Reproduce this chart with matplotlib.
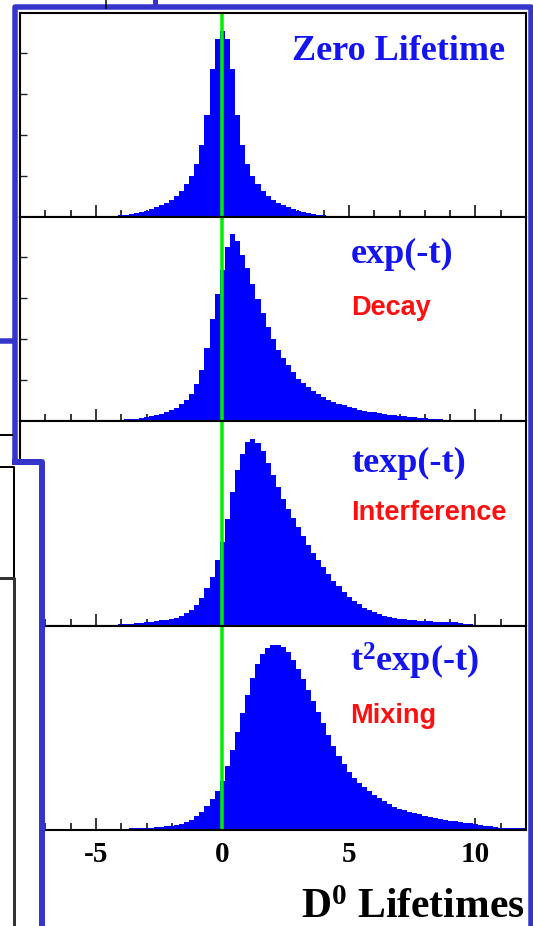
import numpy as np
import matplotlib
matplotlib.use('Agg')
import matplotlib.pyplot as plt
from matplotlib.lines import Line2D
from matplotlib.patches import Rectangle

plt.rcParams['mathtext.fontset'] = 'custom'
plt.rcParams['mathtext.rm'] = 'Liberation Serif:bold'
plt.rcParams['mathtext.it'] = 'Liberation Serif:bold'
plt.rcParams['mathtext.bf'] = 'Liberation Serif:bold'

# ---------------- data ----------------
# histogram bins: centres from -8.0 to 12.0, width 0.2
bin_centers = np.round(np.arange(-8.0, 12.0001, 0.2), 1)
bin_width = 0.2

zero_lifetime = ([0.0] * 16 +
    [0.0, 0.008, 0.015, 0.025, 0.04, 0.06, 0.08, 0.10, 0.13, 0.16, 0.20, 0.24,
     0.29, 0.35, 0.42, 0.52, 0.64, 0.80, 1.00, 1.30, 1.75, 2.50, 3.60, 4.35] +
    [4.54] +
    [4.35, 3.60, 2.50, 1.75, 1.30, 1.00, 0.80, 0.64, 0.52, 0.42, 0.35, 0.29,
     0.24, 0.20, 0.16, 0.13, 0.10, 0.08, 0.06, 0.04, 0.025, 0.015, 0.008, 0.0] +
    [0.0] * 36)

decay = ([0.0] * 6 +
    [0.005, 0.008, 0.01, 0.01, 0.012, 0.014, 0.016, 0.018, 0.02, 0.022, 0.025,
     0.028, 0.03, 0.035, 0.04, 0.05, 0.06, 0.07, 0.09, 0.11, 0.13, 0.16, 0.19,
     0.23, 0.27, 0.33, 0.42, 0.53, 0.68, 0.90, 1.25, 1.80, 2.50, 3.10] +
    [3.70, 4.25, 4.56, 4.40, 4.05, 3.75, 3.35, 2.98, 2.65, 2.30, 2.00, 1.74,
     1.55, 1.38, 1.20, 1.04, 0.93, 0.83, 0.74, 0.66, 0.59, 0.53, 0.48, 0.43,
     0.39, 0.35, 0.32, 0.29, 0.26, 0.24, 0.22, 0.20, 0.18, 0.16, 0.15, 0.13,
     0.12, 0.11, 0.10, 0.09, 0.08, 0.07, 0.06, 0.05, 0.04, 0.035, 0.03, 0.025,
     0.02, 0.015, 0.01] +
    [0.0] * 10)

interference = ([0.0] * 18 +
    [0.01, 0.02, 0.03, 0.04, 0.05, 0.06, 0.07, 0.085, 0.10, 0.115, 0.13, 0.15,
     0.17, 0.20, 0.24, 0.30, 0.38, 0.50, 0.68, 0.92, 1.20, 1.60] +
    [2.05, 2.60, 3.25, 3.80, 4.20, 4.48, 4.56, 4.45, 4.25, 3.98, 3.68, 3.38,
     3.10, 2.85, 2.62, 2.40, 2.18, 1.98, 1.78, 1.60, 1.42, 1.25, 1.10, 0.96,
     0.82, 0.70, 0.60, 0.52, 0.44, 0.38, 0.33, 0.28, 0.24, 0.21, 0.19, 0.17,
     0.155, 0.14, 0.13, 0.12, 0.115, 0.11, 0.10, 0.095, 0.09, 0.085, 0.08, 0.07,
     0.05, 0.03] +
    [0.0] * 11)

mixing = ([0.01] * 10 + [0.02] * 10 +
    [0.03, 0.03, 0.04, 0.04, 0.05, 0.05, 0.06, 0.07, 0.08, 0.09, 0.10, 0.12,
     0.15, 0.19, 0.25, 0.33, 0.44, 0.58, 0.75, 0.95] +
    [1.20, 1.55, 1.95, 2.40, 2.85, 3.30, 3.70, 4.05, 4.30, 4.45, 4.51, 4.51,
     4.46, 4.35, 4.15, 3.92, 3.68, 3.42, 3.15, 2.88, 2.60, 2.32, 2.05, 1.80,
     1.60, 1.42, 1.28, 1.15, 1.04, 0.94, 0.85, 0.77, 0.70, 0.63, 0.57, 0.52,
     0.48, 0.44, 0.41, 0.38, 0.35, 0.32, 0.29, 0.27, 0.25, 0.23, 0.21, 0.20,
     0.18, 0.16, 0.14, 0.12, 0.10, 0.09, 0.08, 0.06, 0.05, 0.05, 0.04, 0.04,
     0.04])

panel_values = [zero_lifetime, decay, interference, mixing]
panel_titles = ["Zero Lifetime", "exp(-t)", "texp(-t)", "t$^2$exp(-t)"]
panel_subtitles = [None, "Decay", "Interference", "Mixing"]
xtick_major = [-5, 0, 5, 10]
xtick_labels = ["-5", "0", "5", "10"]
xtick_minor = list(range(-8, 13))
ytick_values = [1, 2, 3, 4]
x_label = "D$^0$ Lifetimes"

# ---------------- figure ----------------
W, H = 533, 926
fig = plt.figure(figsize=(W / 100, H / 100), dpi=100)
fig.patch.set_facecolor('white')

def fx(x):
    return x / W

def fy(y):
    return 1 - y / H

def pt(px):
    return px * 72 / 100

ax_left, ax_right, ax_top, ax_bottom = 20, 526, 12.8, 830
hp = (ax_bottom - ax_top) / 4
FILL = '#0000ff'
GREEN = '#00ee00'
TXT_BLUE = '#1414f0'
RED = '#ff1010'
FRAME = '#3535cc'

axes = []
for i, vals in enumerate(panel_values):
    top = ax_top + i * hp
    ax = fig.add_axes([fx(ax_left), fy(top + hp), (ax_right - ax_left) / W, hp / H])
    # slightly widened bars so neighbouring bins overlap (no seams)
    ax.bar(bin_centers, vals, width=bin_width * 1.08, align='center',
           color=FILL, linewidth=0, antialiased=False, zorder=2)
    ax.axvline(0, color=GREEN, lw=pt(3.5), zorder=3)
    ax.set_xlim(-8, 12)
    ax.set_ylim(0, hp / 41.0)
    ax.set_xticks(xtick_major)
    ax.set_xticks(xtick_minor, minor=True)
    ax.set_yticks(ytick_values)
    ax.set_yticklabels([])
    ax.tick_params(axis='x', which='major', direction='in', length=9, width=1.1,
                   top=False, bottom=True, color='black')
    ax.tick_params(axis='x', which='minor', direction='in', length=5, width=1.1,
                   top=False, bottom=True, color='black')
    ax.tick_params(axis='y', which='major', direction='in', length=5, width=1.0,
                   left=True, right=False, color='#222222')
    for s in ax.spines.values():
        s.set_linewidth(1.5)
        s.set_color('black')
        s.set_zorder(4)
    if i < 3:
        ax.set_xticklabels([])
    else:
        ax.set_xticklabels(xtick_labels, fontfamily='Liberation Serif',
                           fontweight='bold', fontsize=21)
        ax.tick_params(axis='x', which='major', pad=8)
    axes.append(ax)

# panel labels
serif = dict(family='Liberation Serif', weight='bold', color=TXT_BLUE, fontsize=26)
sans = dict(family='Liberation Sans', weight='bold', color=RED, fontsize=19.5)
fig.text(fx(505), fy(60), panel_titles[0], ha='right', va='baseline', **serif)
fig.text(fx(351), fy(263), panel_titles[1], ha='left', va='baseline', **serif)
fig.text(fx(351), fy(315), panel_subtitles[1], ha='left', va='baseline', **sans)
fig.text(fx(351), fy(472), panel_titles[2], ha='left', va='baseline', **serif)
fig.text(fx(351), fy(520), panel_subtitles[2], ha='left', va='baseline', **sans)
fig.text(fx(350), fy(672), panel_titles[3], ha='left', va='baseline', **serif)
fig.text(fx(350), fy(723), panel_subtitles[3], ha='left', va='baseline', **sans)

fig.text(fx(525), fy(918), x_label, ha='right', va='baseline',
         family='Liberation Serif', weight='bold', color='black', fontsize=30)

# ---------------- slide frames around the plot ----------------
def fline(xs, ys, color, lw_px, z=10):
    fig.add_artist(Line2D([fx(x) for x in xs], [fy(y) for y in ys],
                          transform=fig.transFigure, color=color, lw=pt(lw_px),
                          solid_capstyle='butt', solid_joinstyle='round', zorder=z))

# white box overlapping the lower-left of the plot
fig.add_artist(Rectangle((0, fy(H + 5)), fx(42), (H + 5 - 462) / H,
                         transform=fig.transFigure, facecolor='white',
                         edgecolor='none', zorder=9))

fline([14.7, 14.7, 530.5, 530.5], [462, 6.5, 6.5, H + 5], FRAME, 5.5)
fline([12, 42, 42], [462, 462, H + 5], FRAME, 6)
fline([-2, 14.7], [341.5, 341.5], FRAME, 5.5)
fline([-2, 12.5], [435, 435], 'black', 2)
fline([-2, 13.7, 13.7], [467, 467, 578], 'black', 2, z=11)
fline([-2, 13.7, 13.7], [578, 578, H + 5], '#333333', 3, z=11)
fline([106, 106], [-2, 9], 'black', 1.5)
fline([154.5, 154.5], [-2, 8], FRAME, 5)

fig.savefig('out.png', dpi=100, facecolor='white')
